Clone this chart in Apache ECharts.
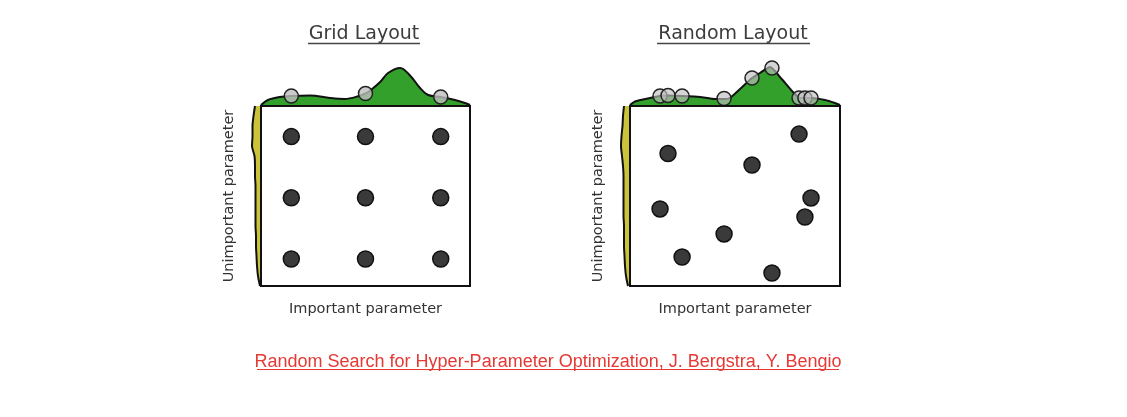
<!DOCTYPE html>
<html>
<head>
<meta charset="utf-8">
<script src="https://cdn.jsdelivr.net/npm/echarts@6/dist/echarts.min.js"></script>
<style>
  html, body { margin: 0; padding: 0; background: #fff; }
  #main { width: 1127px; height: 417px; }
</style>
</head>
<body>
<div id="main"></div>
<script>
// 网格布局 - 散点
var gridDotsX = [0.145, 0.5, 0.86, 0.145, 0.5, 0.86, 0.145, 0.5, 0.86];
var gridDotsY = [0.83, 0.83, 0.83, 0.49, 0.49, 0.49, 0.15, 0.15, 0.15];
// 网格布局 - 上方密度曲线
var gridTopX = [0, 0.033, 0.09, 0.145, 0.234, 0.33, 0.40, 0.47, 0.5, 0.52, 0.57, 0.608, 0.666, 0.715, 0.761, 0.80, 0.86, 0.928, 0.976, 1];
var gridTopH = [1, 6, 9, 10, 10.5, 8, 7, 10, 12.5, 15, 24, 33, 38, 30, 18, 11, 9, 6, 3, 1];
var gridMarginX = [0.145, 0.5, 0.86];
var gridMarginH = [10, 12.5, 9];
// 网格布局 - 左侧密度（自下而上）
var sidePos = ['0', '0.06', '0.11', '0.17', '0.22', '0.28', '0.33', '0.39', '0.44', '0.5', '0.56', '0.61', '0.67', '0.72', '0.78', '0.83', '0.89', '0.94', '1'];
var gridSideW = [1, 3, 4, 4.5, 5, 5, 5.5, 5.5, 5.5, 5.5, 5.5, 6, 6, 6.5, 9, 8.5, 8.5, 7.5, 6];

// 随机布局 - 散点
var randDotsX = [0.181, 0.581, 0.805, 0.143, 0.862, 0.833, 0.448, 0.248, 0.676];
var randDotsY = [0.736, 0.672, 0.844, 0.428, 0.489, 0.383, 0.289, 0.161, 0.072];
// 随机布局 - 上方密度曲线
var randTopX = [0, 0.024, 0.095, 0.143, 0.181, 0.248, 0.333, 0.405, 0.448, 0.476, 0.524, 0.581, 0.619, 0.667, 0.714, 0.776, 0.81, 0.862, 0.929, 0.976, 1];
var randTopH = [1, 4.5, 8, 10, 10.5, 10, 9, 7, 7, 8, 17, 28, 33, 39, 29, 14, 8, 8, 6, 3, 1];
var randMarginX = [0.143, 0.181, 0.248, 0.448, 0.581, 0.676, 0.805, 0.833, 0.862];
var randMarginH = [10, 10.5, 10, 7.5, 28, 38, 8, 8, 8];
// 随机布局 - 左侧密度
var randSideW = [2, 4, 5, 5.5, 6, 6, 6, 6.5, 6.5, 6.5, 6.5, 6.5, 7, 8, 9, 8.5, 7.5, 7, 6];

var titles = ['Grid Layout', 'Random Layout'];
var xName = 'Important parameter';
var yName = 'Unimportant parameter';
var citation = 'Random Search for Hyper-Parameter Optimization, J. Bergstra, Y. Bengio';

function zip(a, b) {
  return a.map(function (v, i) { return [v, b[i]]; });
}

var hidden = {
  axisLine: { show: false },
  axisTick: { show: false },
  axisLabel: { show: false },
  splitLine: { show: false }
};

function valAxis(idx, min, max, extra) {
  return Object.assign({ type: 'value', gridIndex: idx, min: min, max: max }, hidden, extra || {});
}

var chart = echarts.init(document.getElementById('main'));

var nameStyle = { fontFamily: 'DejaVu Sans', fontSize: 14.5, color: '#333' };
var dotStyle = { color: '#3a3a3a', borderColor: '#111', borderWidth: 1.5, opacity: 1 };

var option = {
  backgroundColor: '#ffffff',
  animation: false,
  grid: [
    { left: 261, top: 106, width: 209, height: 180, show: true, z: 5, backgroundColor: 'transparent', borderColor: '#111', borderWidth: 2 },
    { left: 261, top: 56, width: 209, height: 50 },
    { left: 248, top: 106, width: 13, height: 180 },
    { left: 630, top: 106, width: 210, height: 180, show: true, z: 5, backgroundColor: 'transparent', borderColor: '#111', borderWidth: 2 },
    { left: 630, top: 56, width: 210, height: 50 },
    { left: 617, top: 106, width: 13, height: 180 }
  ],
  xAxis: [
    valAxis(0, 0, 1, { name: xName, nameLocation: 'middle', nameGap: 15.5, nameTextStyle: nameStyle }),
    valAxis(1, 0, 1),
    valAxis(2, 0, 13, { inverse: true }),
    valAxis(3, 0, 1, { name: xName, nameLocation: 'middle', nameGap: 15.5, nameTextStyle: nameStyle }),
    valAxis(4, 0, 1),
    valAxis(5, 0, 13, { inverse: true })
  ],
  yAxis: [
    valAxis(0, 0, 1, { name: yName, nameLocation: 'middle', nameGap: 24, nameTextStyle: nameStyle }),
    valAxis(1, 0, 50),
    Object.assign({ type: 'category', gridIndex: 2, boundaryGap: false, data: sidePos }, hidden),
    valAxis(3, 0, 1, { name: yName, nameLocation: 'middle', nameGap: 24, nameTextStyle: nameStyle }),
    valAxis(4, 0, 50),
    Object.assign({ type: 'category', gridIndex: 5, boundaryGap: false, data: sidePos }, hidden)
  ],
  series: [
    {
      type: 'scatter', xAxisIndex: 0, yAxisIndex: 0,
      data: zip(gridDotsX, gridDotsY), symbolSize: 16,
      itemStyle: dotStyle
    },
    {
      type: 'line', xAxisIndex: 1, yAxisIndex: 1, smooth: 0.35, symbol: 'none',
      data: zip(gridTopX, gridTopH),
      lineStyle: { color: '#111', width: 2 },
      areaStyle: { color: '#33a02c', opacity: 1 }
    },
    {
      type: 'scatter', xAxisIndex: 1, yAxisIndex: 1, z: 4,
      data: zip(gridMarginX, gridMarginH), symbolSize: 14,
      itemStyle: { color: 'rgba(190,190,190,0.8)', borderColor: '#222', borderWidth: 1.5, opacity: 1 }
    },
    {
      type: 'line', xAxisIndex: 2, yAxisIndex: 2, smooth: 0.3, symbol: 'none',
      data: gridSideW,
      lineStyle: { color: '#111', width: 2 },
      areaStyle: { color: '#cbc43a', opacity: 1 }
    },
    {
      type: 'scatter', xAxisIndex: 3, yAxisIndex: 3,
      data: zip(randDotsX, randDotsY), symbolSize: 16,
      itemStyle: dotStyle
    },
    {
      type: 'line', xAxisIndex: 4, yAxisIndex: 4, smooth: 0.2, symbol: 'none',
      data: zip(randTopX, randTopH),
      lineStyle: { color: '#111', width: 2 },
      areaStyle: { color: '#33a02c', opacity: 1 }
    },
    {
      type: 'scatter', xAxisIndex: 4, yAxisIndex: 4, z: 4,
      data: zip(randMarginX, randMarginH), symbolSize: 14,
      itemStyle: { color: 'rgba(190,190,190,0.65)', borderColor: '#222', borderWidth: 1.5, opacity: 1 }
    },
    {
      type: 'line', xAxisIndex: 5, yAxisIndex: 5, smooth: 0.3, symbol: 'none',
      data: randSideW,
      lineStyle: { color: '#111', width: 2 },
      areaStyle: { color: '#cbc43a', opacity: 1 }
    }
  ],
  graphic: [
    { type: 'text', x: 364, y: 34.5, style: { text: titles[0], fontFamily: 'DejaVu Sans', fontSize: 19, fill: '#3c3c3c', textAlign: 'center', textVerticalAlign: 'middle' } },
    { type: 'line', shape: { x1: 308, y1: 43.5, x2: 420, y2: 43.5 }, style: { stroke: '#444', lineWidth: 1.5 } },
    { type: 'text', x: 733, y: 34.5, style: { text: titles[1], fontFamily: 'DejaVu Sans', fontSize: 19, fill: '#3c3c3c', textAlign: 'center', textVerticalAlign: 'middle' } },
    { type: 'line', shape: { x1: 657, y1: 43.5, x2: 810, y2: 43.5 }, style: { stroke: '#444', lineWidth: 1.5 } },
    { type: 'text', x: 548, y: 362, style: { text: citation, fontFamily: 'Liberation Sans', fontSize: 18, fill: '#e53935', textAlign: 'center', textVerticalAlign: 'middle' } },
    { type: 'line', shape: { x1: 257, y1: 369.5, x2: 839, y2: 369.5 }, style: { stroke: '#e53935', lineWidth: 1 } }
  ]
};

chart.setOption(option);
</script>
</body>
</html>
